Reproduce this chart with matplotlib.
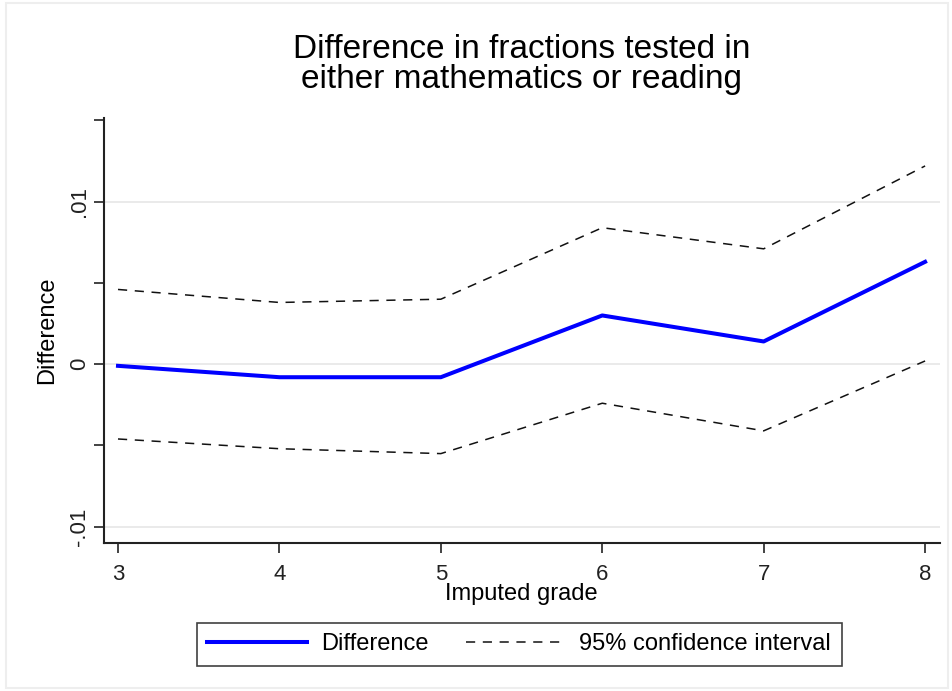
import matplotlib.pyplot as plt
import numpy as np

plt.rcParams['font.family'] = ['Liberation Sans', 'DejaVu Sans']

# data
grade = [3, 4, 5, 6, 7, 8]
diff = [-0.0001, -0.0008, -0.0008, 0.0030, 0.0014, 0.0063]
ci_hi = [0.0046, 0.0038, 0.0040, 0.0084, 0.0071, 0.0122]
ci_lo = [-0.0046, -0.0052, -0.0055, -0.0024, -0.0041, 0.0002]

fig = plt.figure(figsize=(9.52, 6.91), dpi=100)
ax = fig.add_axes([0.1092, 0.2142, 0.8778, 0.6148])

ax.plot(grade, diff, color='#0000ff', lw=2.9, label='Difference', zorder=3)
ax.plot(grade, ci_hi, color='#111111', lw=1.1, ls=(0, (6, 5)), label='95% confidence interval')
ax.plot(grade, ci_lo, color='#111111', lw=1.1, ls=(0, (6, 5)))

ax.set_xlim(2.913, 8.09)
ax.set_ylim(-0.011, 0.01514)
ax.set_xticks(grade)
ax.set_yticks([-0.01, 0, 0.01])
ax.set_yticklabels(['-.01', '0', '.01'], rotation=90, va='center')
ax.set_yticks([-0.005, 0.005, 0.015], minor=True)
ax.tick_params(axis='both', which='both', length=7, width=1.2, colors='#222222', labelsize=16)
ax.tick_params(axis='y', pad=3)
ax.tick_params(axis='x', pad=8)
ax.grid(axis='y', which='major', color='#e6e6e6', lw=1.2)
ax.set_axisbelow(True)
for s in ['top', 'right']:
    ax.spines[s].set_visible(False)
for s in ['left', 'bottom']:
    ax.spines[s].set_linewidth(1.5)
    ax.spines[s].set_color('#222222')

ax.set_xlabel('Imputed grade', fontsize=17, labelpad=-1)
ax.set_ylabel('Difference', fontsize=17, labelpad=8)
ax.set_title('Difference in fractions tested in\neither mathematics or reading',
             fontsize=24, pad=22, linespacing=0.95)

leg = ax.legend(loc='upper center', bbox_to_anchor=(0.497, -0.16), ncol=2, fontsize=17,
                frameon=True, fancybox=False, edgecolor='#111111', handlelength=4.2,
                columnspacing=1.6, borderpad=0.45, handletextpad=0.6)
leg.get_frame().set_linewidth(1.2)

fig.patches.append(plt.Rectangle((0.006, 0.005), 0.99, 0.99, transform=fig.transFigure,
                                 fill=False, edgecolor='#eeeeee', lw=1.5))

fig.savefig('out.png', dpi=100)
